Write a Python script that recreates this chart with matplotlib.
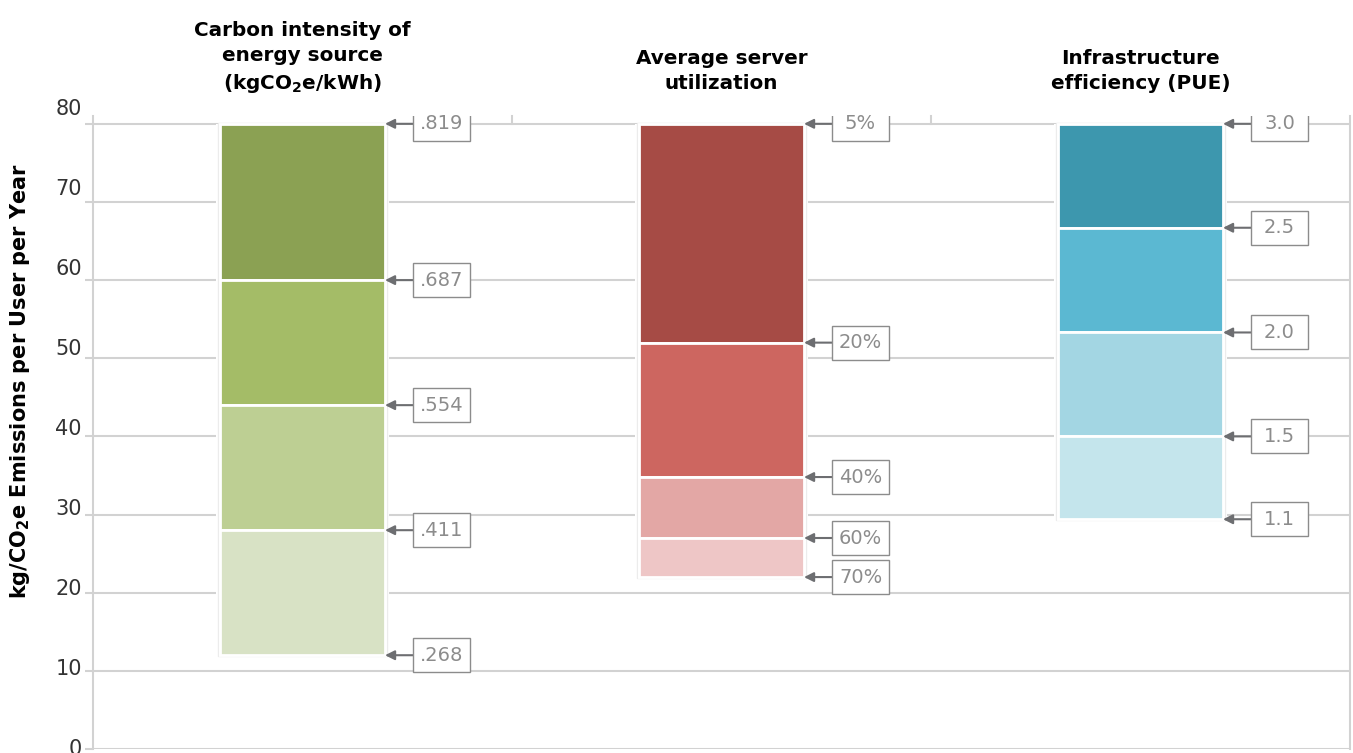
import matplotlib
matplotlib.use("Agg")
import matplotlib.pyplot as plt
from matplotlib.patches import Rectangle

plt.rcParams['font.family'] = ['DejaVu Sans']
plt.rcParams['mathtext.fontset'] = 'dejavusans'

# column headers
titles = [
    "Carbon intensity of\nenergy source\n(kgCO$_\\mathbf{2}$e/kWh)",
    "Average server\nutilization",
    "Infrastructure\nefficiency (PUE)",
]

# segment boundaries (kg CO2e per user per year), top to bottom
carbon_levels = [80, 60, 44, 28, 12]
server_levels = [80, 52, 34.8, 27, 22]
pue_levels = [80, 66.7, 53.3, 40, 29.4]

carbon_labels = [".819", ".687", ".554", ".411", ".268"]
server_labels = ["5%", "20%", "40%", "60%", "70%"]
pue_labels = ["3.0", "2.5", "2.0", "1.5", "1.1"]

carbon_colors = ["#8ba153", "#a4bc67", "#bdcf93", "#d8e2c5"]
server_colors = ["#a64b45", "#cd6660", "#e3a7a5", "#eec6c6"]
pue_colors = ["#3d97ae", "#5bb8d2", "#a3d6e3", "#c4e5ec"]

y_ticks = [0, 10, 20, 30, 40, 50, 60, 70, 80]
y_label = "kg/CO$_\\mathbf{2}$e Emissions per User per Year"

columns = [
    (carbon_levels, carbon_labels, carbon_colors),
    (server_levels, server_labels, server_colors),
    (pue_levels, pue_labels, pue_colors),
]

grid_c = "#d2d2d2"
arrow_c = "#6d6e71"
box_c = "#8c8c8c"

W, H = 1353, 753
fig = plt.figure(figsize=(W / 100, H / 100), dpi=100)
ax = fig.add_axes([93 / W, 4 / H, 1257 / W, 633 / H])
ax.set_xlim(-0.5, 2.5)
ax.set_ylim(0, 81)

for v in y_ticks:
    ax.axhline(v, color=grid_c, lw=1.5, zorder=0)
for s in ["top", "bottom"]:
    ax.spines[s].set_visible(False)
for s in ["left", "right"]:
    ax.spines[s].set_color(grid_c)
    ax.spines[s].set_linewidth(1.5)
ax.set_xticks([])
ax.set_yticks(y_ticks)
ax.tick_params(axis="y", length=6, width=1.5, color=grid_c, labelleft=False)

# small dividers between the three groups above the top line
for xs in [0.5, 1.5]:
    ax.plot([xs, xs], [80, 81], color=grid_c, lw=1.5, zorder=0, clip_on=False)

# y tick labels sit a little above their gridlines
for v in y_ticks:
    ax.text(-0.0088, v * 1.023, str(v), transform=ax.get_yaxis_transform(),
            ha="right", va="center", fontsize=15, color="#333333", clip_on=False)

fig.text(20 / W, 1 - 381 / H, y_label, rotation=90, ha="center", va="center",
         fontsize=15, fontweight="bold")

bw = 0.394
gap = 28 / 419
box_w = 57 / 419
box_h = 34 / 7.81

for i, (levels, labels, colors) in enumerate(columns):
    top, bottom = levels[0], levels[-1]
    # white margin that interrupts the gridlines
    ax.bar(i, top - bottom, bottom=bottom, width=bw + 0.02, color="white",
           edgecolor="none", zorder=1)
    for k in range(len(levels) - 1):
        ax.bar(i, levels[k] - levels[k + 1], bottom=levels[k + 1], width=bw,
               color=colors[k], edgecolor="white", lw=2, zorder=2)
    ax.add_patch(Rectangle((i - bw / 2 - 0.004, bottom - 0.15), bw + 0.008,
                           top - bottom + 0.3, fill=False, ec="#ececec", lw=1, zorder=1.5))

    right = i + bw / 2
    for v, lab in zip(levels, labels):
        bx = right + gap
        ax.annotate("", xy=(right, v), xytext=(bx, v),
                    arrowprops=dict(arrowstyle="-|>", color=arrow_c, lw=1.5,
                                    mutation_scale=14, shrinkA=0, shrinkB=0),
                    zorder=4)
        ax.add_patch(Rectangle((bx, v - box_h / 2), box_w, box_h, fc="white",
                               ec=box_c, lw=1, zorder=4))
        ax.text(bx + box_w / 2, v, lab, ha="center", va="center", fontsize=14,
                color=box_c, zorder=5)

    ax.text(i, 1.0427, titles[i], transform=ax.get_xaxis_transform(),
            ha="center", va="baseline", fontsize=14.4, fontweight="bold",
            linespacing=1.4, multialignment="center")

fig.savefig("out.png", dpi=100)
